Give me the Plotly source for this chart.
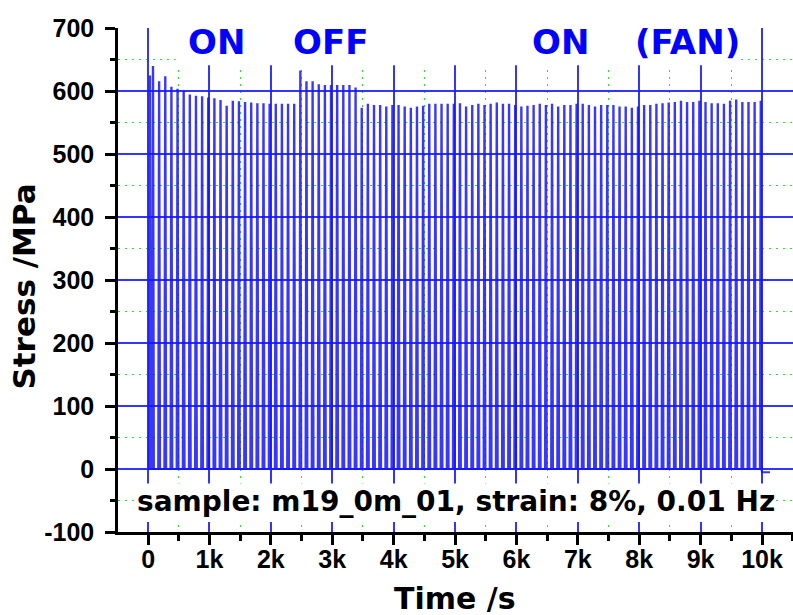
import plotly.graph_objects as go

# Cyclic tensile test: one stress peak per cycle at 0.01 Hz (100 s period)
cycle_period = 100.0
first_peak_time = 80.0
pre_peak_time = 30.0
pre_peak_stress = 623.0

peak_stress = [
    638, 614, 622, 605, 602, 599, 593, 591, 590, 588,
    587, 584, 575, 583, 582, 581, 580, 579, 579, 578,
    578, 578, 578, 578, 631, 614, 614, 609, 608, 608,
    608, 608, 608, 604, 572, 578, 576, 576, 574, 576,
    576, 574, 572, 574, 575, 578, 578, 578, 578, 578,
    579, 574, 576, 578, 576, 578, 580, 578, 578, 576,
    574, 575, 576, 578, 576, 578, 574, 576, 576, 578,
    578, 576, 574, 576, 576, 576, 574, 574, 572, 574,
    576, 576, 578, 579, 580, 581, 583, 581, 581, 583,
    581, 579, 579, 578, 583, 585, 581, 581, 581, 583,
]
tail_time = [10000, 10130]
tail_stress = [-5, -5]

x_tickvals = [0, 1000, 2000, 3000, 4000, 5000, 6000, 7000, 8000, 9000, 10000]
x_ticktext = ["0", "1k", "2k", "3k", "4k", "5k", "6k", "7k", "8k", "9k", "10k"]
y_tickvals = [-100, 0, 100, 200, 300, 400, 500, 600, 700]
y_ticktext = ["-100", "0", "100", "200", "300", "400", "500", "600", "700"]

phase_labels = ["ON", "OFF", "ON", "(FAN)"]
phase_label_time = [1120, 2970, 6710, 8790]
info_text = "sample: m19_0m_01, strain: 8%, 0.01 Hz"

# Build the stress-time trace: each cycle is a narrow load/unload spike
rise_time = 16.0
hold_time = 3.0
t = [0.0]
s = [0.0]
spikes = [(pre_peak_time, pre_peak_stress)] + [
    (first_peak_time + i * cycle_period, v) for i, v in enumerate(peak_stress)
]
for tp, sp in spikes:
    t += [tp - rise_time, tp - hold_time, tp + hold_time, tp + rise_time]
    s += [0.0, sp, sp, 0.0]
t += [tail_time[0] - 10, tail_time[0], tail_time[1]]
s += [0.0, tail_stress[0], tail_stress[1]]

BLUE = "#0000ff"
GRID_BLUE = "rgba(30,30,255,0.9)"
GREEN = "rgb(40,225,40)"
TICK_FONT = dict(family="Liberation Sans", size=25, color="black", weight="bold")
TITLE_FONT = dict(family="DejaVu Sans", size=30, color="black", weight="bold")

fig = go.Figure()
fig.add_trace(go.Scatter(
    x=t, y=s, mode="lines",
    line=dict(color="rgba(20,20,255,0.85)", width=2.0),
    hoverinfo="skip", showlegend=False,
))

axis_common = dict(
    showline=True, linecolor="black", linewidth=2.5,
    ticks="outside", ticklen=10, tickwidth=2.5, tickcolor="black",
    tickfont=TICK_FONT,
    showgrid=True, gridcolor=GRID_BLUE, gridwidth=1.5,
    zeroline=False,
)

fig.update_xaxes(
    range=[-490, 10505],
    tickmode="array", tickvals=x_tickvals, ticktext=x_ticktext,
    ticklabelstandoff=-7,
    minor=dict(tick0=500, dtick=1000, ticks="outside", ticklen=6,
               tickwidth=2.5, tickcolor="black",
               showgrid=True, gridcolor=GREEN, gridwidth=1.4,
               griddash="2px,5px"),
    **axis_common,
)
fig.update_yaxes(
    range=[-100, 700],
    tickmode="array", tickvals=y_tickvals, ticktext=y_ticktext,
    ticklabelstandoff=6,
    minor=dict(tick0=50, dtick=100, ticks="outside", ticklen=5,
               tickwidth=2.5, tickcolor="black",
               showgrid=True, gridcolor=GREEN, gridwidth=1.4,
               griddash="2px,5px"),
    **axis_common,
)

# White panels behind the phase labels and the sample description
fig.add_shape(type="rect", xref="x", yref="y", x0=450, x1=9660, y0=641, y1=720,
              fillcolor="white", line_width=0, layer="between")
fig.add_shape(type="rect", xref="x", yref="y", x0=-210, x1=10210, y0=-84, y1=-23,
              fillcolor="white", line_width=0, layer="between")

for label, tx in zip(phase_labels, phase_label_time):
    fig.add_annotation(x=tx, y=677, xref="x", yref="y", text=label,
                       showarrow=False, xanchor="center", yanchor="middle",
                       font=dict(family="DejaVu Sans", size=34, color=BLUE,
                                 weight="bold"))

fig.add_annotation(x=5008, y=-52, xref="x", yref="y", text=info_text,
                   showarrow=False, xanchor="center", yanchor="middle",
                   font=dict(family="DejaVu Sans", size=28, color="black",
                             weight="bold"))

# Axis titles
fig.add_annotation(x=-0.1393, y=0.487, xref="paper", yref="paper",
                   text="Stress /MPa", textangle=-90, showarrow=False,
                   xanchor="center", yanchor="middle",
                   font=dict(family="DejaVu Sans", size=31, color="black",
                             weight="bold"))
fig.add_annotation(x=0.4993, y=-0.131, xref="paper", yref="paper",
                   text="Time /s", showarrow=False,
                   xanchor="center", yanchor="middle", font=TITLE_FONT)

fig.update_layout(
    width=793, height=615,
    margin=dict(l=118, r=0, t=28, b=83),
    paper_bgcolor="white", plot_bgcolor="white",
    showlegend=False,
)

fig.write_html("out.html")
